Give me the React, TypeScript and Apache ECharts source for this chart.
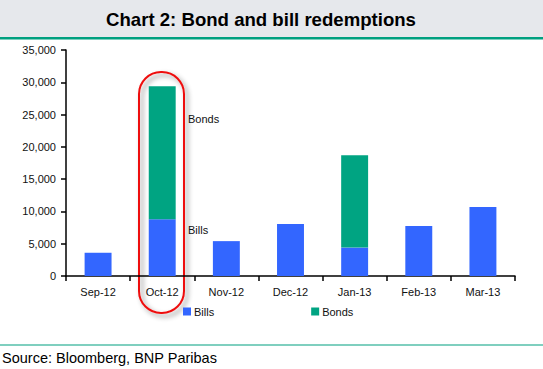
import React, { useEffect, useRef } from "react";
import * as echarts from "echarts";

const categories = ["Sep-12", "Oct-12", "Nov-12", "Dec-12", "Jan-13", "Feb-13", "Mar-13"];
const bills = [3600, 8800, 5400, 8050, 4400, 7750, 10700];
const bonds = [0, 20600, 0, 0, 14300, 0, 0];
const yTicks = { min: 0, max: 35000, interval: 5000 };

const BLUE = "#3366ff";
const GREEN = "#00a482";
const FONT = "'Liberation Sans', Arial, sans-serif";

export default function App() {
  const ref = useRef<HTMLDivElement>(null);
  useEffect(() => {
    if (!ref.current) return;
    const chart = echarts.init(ref.current, null, { renderer: "svg" });
    chart.setOption({
      animation: false,
      backgroundColor: "#ffffff",
      textStyle: { fontFamily: FONT },
      grid: { left: 66, top: 50, right: 28, bottom: 93, containLabel: false },
      xAxis: {
        type: "category",
        data: categories,
        axisLine: { lineStyle: { color: "#000", width: 1.5 } },
        axisTick: { show: true, length: 5, lineStyle: { color: "#000", width: 1.5 }, alignWithLabel: false },
        axisLabel: { color: "#111", fontSize: 11, fontFamily: FONT, margin: 10 },
        splitLine: { show: false },
      },
      yAxis: {
        type: "value",
        min: yTicks.min,
        max: yTicks.max,
        interval: yTicks.interval,
        axisLine: { show: true, lineStyle: { color: "#000", width: 1.5 } },
        axisTick: { show: true, length: 5, lineStyle: { color: "#000", width: 1.5 } },
        axisLabel: {
          color: "#111",
          fontSize: 11,
          fontFamily: FONT,
          margin: 10,
          formatter: (v: number) => v.toLocaleString("en-US"),
        },
        splitLine: { show: false },
      },
      legend: {
        data: [
          { name: "Bills", icon: "rect" },
          { name: "Bonds", icon: "rect" },
        ],
        left: 178,
        top: 301,
        itemWidth: 8,
        itemHeight: 8,
        itemGap: 97,
        textStyle: { fontSize: 11, color: "#111", fontFamily: FONT, padding: [0, 0, 0, -2] },
      },
      series: [
        {
          name: "Bills",
          type: "bar",
          stack: "total",
          data: bills,
          barWidth: "42%",
          itemStyle: { color: BLUE },
        },
        {
          name: "Bonds",
          type: "bar",
          stack: "total",
          data: bonds,
          barWidth: "42%",
          itemStyle: { color: GREEN },
        },
      ],
      graphic: [
        { type: "rect", shape: { x: 0, y: 0, width: 543, height: 37 }, style: { fill: "#e6e8ec" }, silent: true },
        { type: "rect", shape: { x: 0, y: 37, width: 543, height: 2.5 }, style: { fill: "#00a080" }, silent: true },
        {
          type: "text",
          x: 261,
          y: 19,
          style: {
            text: "Chart 2: Bond and bill redemptions",
            fill: "#000",
            font: "bold 18.6px " + FONT,
            textAlign: "center",
            textVerticalAlign: "middle",
          },
        },
        {
          type: "rect",
          shape: { x: 139, y: 72, width: 45, height: 241, r: 22 },
          style: {
            fill: "none",
            stroke: "#ee1111",
            lineWidth: 2,
            shadowBlur: 5,
            shadowColor: "rgba(0,0,0,0.45)",
            shadowOffsetX: 3,
            shadowOffsetY: 3,
          },
        },
        {
          type: "text",
          x: 188,
          y: 119,
          style: { text: "Bonds", fill: "#111", font: "11px " + FONT, textVerticalAlign: "middle" },
        },
        {
          type: "text",
          x: 188,
          y: 230,
          style: { text: "Bills", fill: "#111", font: "11px " + FONT, textVerticalAlign: "middle" },
        },
        { type: "rect", shape: { x: 0, y: 344.5, width: 543, height: 1 }, style: { fill: "#00a080" }, silent: true },
        {
          type: "text",
          x: 2,
          y: 358,
          style: {
            text: "Source: Bloomberg, BNP Paribas",
            fill: "#000",
            font: "14.5px " + FONT,
            textVerticalAlign: "middle",
          },
        },
      ],
    });
    return () => chart.dispose();
  }, []);
  return (
    <div
      ref={ref}
      style={{ position: "fixed", left: 0, top: 0, width: 543, height: 369 }}
    />
  );
}
